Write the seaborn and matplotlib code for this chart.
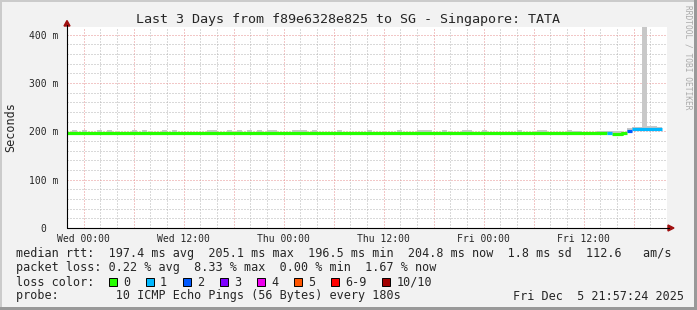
import numpy as np
import pandas as pd
import matplotlib
matplotlib.use("Agg")
import matplotlib.pyplot as plt
import matplotlib.dates as mdates
from matplotlib.patches import Rectangle, Polygon
from matplotlib.lines import Line2D
from matplotlib.ticker import FuncFormatter, FixedLocator, MultipleLocator
import seaborn as sns

# ---------------- data ----------------
title = "Last 3 Days from f89e6328e825 to SG - Singapore: TATA"
y_label = "Seconds"
range_start = "2025-12-02 22:00"
range_end = "2025-12-05 22:00"
bin_minutes = 36

median_rtt = [
    197, 197, 197, 197, 197, 197, 197, 197, 197, 197,
    197, 197, 197, 197, 197, 197, 197, 197, 197, 197,
    197, 197, 197, 197, 197, 197, 197, 197, 197, 197,
    197, 197, 197, 197, 197, 197, 197, 197, 197, 197,
    197, 197, 197, 197, 197, 197, 197, 197, 197, 197,
    197, 197, 197, 197, 197, 197, 197, 197, 197, 197,
    197, 197, 197, 197, 197, 197, 197, 197, 197, 197,
    197, 197, 197, 197, 197, 197, 197, 197, 197, 197,
    197, 197, 197, 197, 197, 197, 197, 197, 197, 197,
    197, 197, 197, 197, 197, 197, 197, 197, 197, 197,
    197, 197, 197, 197, 197, 197, 197, 197, 197, 195,
    195, 197, 200, 205, 205, 205, 205, 205, 205,
]
loss_count = [
    0, 0, 0, 0, 0, 0, 0, 0, 0, 0,
    0, 0, 0, 0, 0, 0, 0, 0, 0, 0,
    0, 0, 0, 0, 0, 0, 0, 0, 0, 0,
    0, 0, 0, 0, 0, 0, 0, 0, 0, 0,
    0, 0, 0, 0, 0, 0, 0, 0, 0, 0,
    0, 0, 0, 0, 0, 0, 0, 0, 0, 0,
    0, 0, 0, 0, 0, 0, 0, 0, 0, 0,
    0, 0, 0, 0, 0, 0, 0, 0, 0, 0,
    0, 0, 0, 0, 0, 0, 0, 0, 0, 0,
    0, 0, 0, 0, 0, 0, 0, 0, 0, 0,
    0, 0, 0, 0, 0, 0, 0, 0, 1, 0,
    0, 0, 2, 1, 1, 1, 1, 1, 1,
]
smoke_max = [
    199, 203, 199, 203, 199, 199, 203.5, 199, 203.5, 199,
    199, 199, 199, 203.5, 199, 202, 199, 199, 199, 202,
    199, 203.5, 199, 199, 199, 199, 199, 199, 203, 203.5,
    199, 199, 202, 199, 202, 199, 202, 199, 203, 199,
    203, 203.5, 199, 199, 199, 202, 202.5, 202, 199, 202,
    199, 199, 199, 199, 202, 199, 199, 199, 199, 199,
    203, 199, 199, 199, 199, 199, 203, 199, 199, 199,
    202, 203.5, 202, 199, 199, 202, 199, 199, 199, 202,
    203, 199, 199, 203, 199, 199, 199, 199, 199, 199,
    203, 199, 199, 199, 202, 202, 199, 199, 199, 199,
    203, 201.5, 201.5, 199, 199, 199, 201.5, 201.5, 201, 200,
    200, 199, 206, 209, 209, 420, 211, 211, 209,
]

ytick_values = [0, 100, 200, 300, 400]
ytick_labels = ["0  ", "100 m", "200 m", "300 m", "400 m"]
y_max = 416

loss_labels = ["0", "1", "2", "3", "4", "5", "6-9", "10/10"]
loss_colors = ["#26ff00", "#00b8ff", "#0059ff", "#7e00ff", "#ee00ee",
               "#ff5500", "#ff0000", "#a10000"]

stat_lines = [
    "median rtt:  197.4 ms avg  205.1 ms max  196.5 ms min  204.8 ms now  1.8 ms sd  112.6   am/s",
    "packet loss: 0.22 % avg  8.33 % max  0.00 % min  1.67 % now",
]
loss_title = "loss color:"
probe_text = "probe:        10 ICMP Echo Pings (56 Bytes) every 180s"
stamp_text = "Fri Dec  5 21:57:24 2025"
watermark = "RRDTOOL / TOBI OETIKER"

# ---------------- styling ----------------
sns.set_style("white")
plt.rcParams["font.family"] = ["DejaVu Sans Mono", "DejaVu Sans"]

W, H = 697, 310
BG = "#f2f2f2"
MINOR_GRID = "#b4b4b4"
MAJOR_GRID = "#e79090"
ARROW = "#a01010"
SMOKE = "#c8c8c8"


def fx(x):
    return x / W


def fy(y):
    return 1 - y / H


fig = plt.figure(figsize=(W / 100, H / 100), dpi=100)
fig.patch.set_facecolor(BG)

ax = fig.add_axes([fx(67), fy(228), 600 / W, 201 / H])
ax.set_facecolor("white")

# ---------------- build frames ----------------
n = len(median_rtt)
t0 = pd.Timestamp(range_start)
step = pd.Timedelta(minutes=bin_minutes)
starts = [t0 + i * step for i in range(n)]
ends = [t0 + (i + 1) * step for i in range(n)]

rows = []
seg = 0
for i in range(n):
    if i > 0 and loss_count[i] != loss_count[i - 1]:
        seg += 1
    lbl = loss_labels[loss_count[i]]
    rows.append((starts[i], median_rtt[i], lbl, seg))
    rows.append((ends[i], median_rtt[i], lbl, seg))
df = pd.DataFrame(rows, columns=["time", "median", "loss", "seg"])

# smoke (spread of the individual pings)
edges = starts + [ends[-1]]
smoke_hi = list(smoke_max) + [smoke_max[-1]]
smoke_lo = [m - 2 for m in median_rtt] + [median_rtt[-1] - 2]
ax.fill_between(edges, smoke_lo, smoke_hi, step="post", color=SMOKE,
                linewidth=0, zorder=2)

palette = dict(zip(loss_labels, loss_colors))
sns.lineplot(data=df, x="time", y="median", hue="loss", units="seg",
             estimator=None, sort=False, palette=palette, linewidth=2.3,
             legend=False, ax=ax, zorder=3, solid_capstyle="butt")

# ---------------- axes ----------------
ax.set_xlim(pd.Timestamp(range_start), pd.Timestamp(range_end))
ax.set_ylim(0, y_max)
ax.set_xlabel("")
ax.set_ylabel("")

ax.xaxis.set_major_locator(mdates.HourLocator(byhour=[0, 6, 12, 18]))
ax.xaxis.set_minor_locator(mdates.HourLocator(byhour=list(range(0, 24, 2))))


def _fmt(v, pos):
    d = mdates.num2date(v)
    return d.strftime("%a %H:%M") if d.hour in (0, 12) else ""


ax.xaxis.set_major_formatter(FuncFormatter(_fmt))

ax.yaxis.set_major_locator(FixedLocator(ytick_values))
ax.set_yticklabels(ytick_labels)
ax.yaxis.set_minor_locator(MultipleLocator(20))

ax.set_axisbelow(True)
dot = (0, (1, 2))
ax.grid(which="minor", color=MINOR_GRID, linestyle=dot, linewidth=0.72)
ax.grid(which="major", color=MAJOR_GRID, linestyle=dot, linewidth=0.72)

ax.tick_params(axis="both", which="major", labelsize=7, color=MAJOR_GRID,
               direction="inout", length=3, width=0.8)
ax.tick_params(axis="both", which="minor", color="#999999",
               direction="inout", length=3, width=0.8)
ax.tick_params(axis="x", which="major", pad=2.5)
ax.tick_params(axis="y", which="major", pad=4.5)
for s in ax.spines.values():
    s.set_visible(False)

# axis lines and arrows
fig.add_artist(Line2D([fx(67), fx(67)], [fy(228), fy(25)], color="black",
                      linewidth=0.8, transform=fig.transFigure))
fig.add_artist(Line2D([fx(67), fx(669)], [fy(228), fy(228)], color="black",
                      linewidth=0.8, transform=fig.transFigure))
fig.add_artist(Polygon([[fx(64), fy(26)], [fx(70), fy(26)], [fx(67), fy(20.5)]],
                       closed=True, color=ARROW, transform=fig.transFigure))
fig.add_artist(Polygon([[fx(668), fy(225)], [fx(668), fy(231)], [fx(674), fy(228)]],
                       closed=True, color=ARROW, transform=fig.transFigure))

# ---------------- texts ----------------
fig.text(fx(348), fy(19), title, ha="center", va="center", fontsize=9.6)
fig.text(fx(11), fy(127.5), y_label, ha="center", va="center",
         rotation=90, fontsize=8.5)
fig.text(fx(688), fy(5), watermark, ha="center", va="top", rotation=270,
         fontsize=5.7, color="#aaaaaa")

cw = 7.09
fig.text(fx(16), fy(254), stat_lines[0], ha="left", va="center", fontsize=8.5)
fig.text(fx(16), fy(268), stat_lines[1], ha="left", va="center", fontsize=8.5)
fig.text(fx(16), fy(282), loss_title, ha="left", va="center", fontsize=8.5)
bx = 108.5
for lbl, col in zip(loss_labels, loss_colors):
    fig.add_artist(Rectangle((fx(bx), fy(286)), 8 / W, 8 / H,
                             facecolor=col, edgecolor="black", linewidth=0.7,
                             transform=fig.transFigure))
    fig.text(fx(bx + 14.5), fy(282), lbl, ha="left", va="center", fontsize=8.5)
    bx += 37 + (len(lbl) - 1) * cw
fig.text(fx(16), fy(296), probe_text, ha="left", va="center", fontsize=8.5)
fig.text(fx(513), fy(296), stamp_text, ha="left", va="center", fontsize=8.5)

# frame bevel
fig.add_artist(Rectangle((0, 0), fx(2), 1, facecolor="#cbcbcb", edgecolor="none",
                         transform=fig.transFigure))
fig.add_artist(Rectangle((0, fy(2)), 1, 2 / H, facecolor="#cbcbcb", edgecolor="none",
                         transform=fig.transFigure))
fig.add_artist(Rectangle((fx(694), 0), 3 / W, 1, facecolor="#999999", edgecolor="none",
                         transform=fig.transFigure))
fig.add_artist(Rectangle((0, 0), 1, 3 / H, facecolor="#999999", edgecolor="none",
                         transform=fig.transFigure))

fig.savefig("out.png", dpi=100, facecolor=BG)
